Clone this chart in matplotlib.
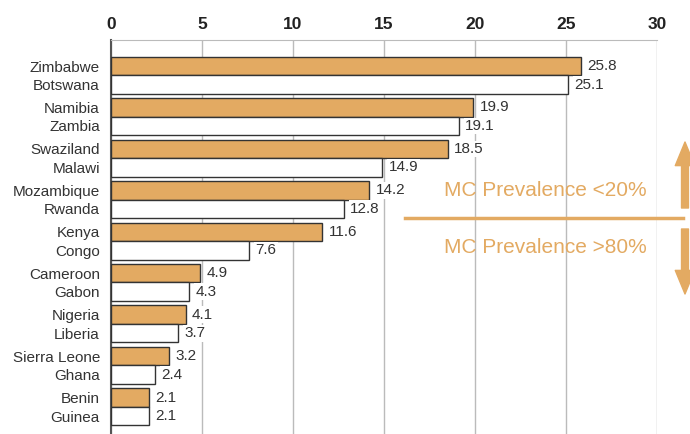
import numpy as np
import matplotlib
matplotlib.use("Agg")
import matplotlib.pyplot as plt
from matplotlib.lines import Line2D

plt.rcParams['font.family'] = ['Liberation Sans', 'DejaVu Sans']

# pairs: upper (filled) country, lower (white) country
top_names = ['Zimbabwe', 'Namibia', 'Swaziland', 'Mozambique', 'Kenya',
             'Cameroon', 'Nigeria', 'Sierra Leone', 'Benin']
top_vals = [25.8, 19.9, 18.5, 14.2, 11.6, 4.9, 4.1, 3.2, 2.1]
bot_names = ['Botswana', 'Zambia', 'Malawi', 'Rwanda', 'Congo',
             'Gabon', 'Liberia', 'Ghana', 'Guinea']
bot_vals = [25.1, 19.1, 14.9, 12.8, 7.6, 4.3, 3.7, 2.4, 2.1]
xticks = [0, 5, 10, 15, 20, 25, 30]

orange = '#E3AA62'
edge = '#333333'

fig = plt.figure(figsize=(6.9, 4.34), dpi=100)
ax = fig.add_axes([111 / 690, 0, 546 / 690, 1 - 40 / 434])

pitch = 2.24
pos = np.arange(len(top_vals)) * pitch
ax.barh(pos, top_vals, height=1.0, color=orange, edgecolor=edge, linewidth=1, zorder=3)
ax.barh(pos + 1, bot_vals, height=1.0, color='white', edgecolor=edge, linewidth=1, zorder=3)

for y, v in zip(pos, top_vals):
    ax.text(v + 0.35, y, f'{v}', va='center', ha='left', fontsize=11, color='#333333',
            zorder=4, bbox=dict(facecolor='white', edgecolor='none', pad=1.0))
for y, v in zip(pos + 1, bot_vals):
    ax.text(v + 0.35, y, f'{v}', va='center', ha='left', fontsize=11, color='#333333',
            zorder=4, bbox=dict(facecolor='white', edgecolor='none', pad=1.0))

yt = np.empty(2 * len(pos))
yt[0::2] = pos
yt[1::2] = pos + 1
labels = []
for a, b in zip(top_names, bot_names):
    labels += [a, b]
ax.set_yticks(yt)
ax.set_yticklabels(labels, fontsize=11, color='#333333')
ax.tick_params(axis='y', length=0, pad=8)

ax.set_xlim(0, 30)
ax.set_ylim(368 / 18.5, -26 / 18.5)
ax.xaxis.tick_top()
ax.set_xticks(xticks)
ax.set_xticklabels([str(t) for t in xticks], fontsize=12.5, fontweight='bold', color='#222222')
ax.tick_params(axis='x', length=0, pad=6)
ax.grid(axis='x', color='#bbbbbb', linewidth=1, zorder=0)
ax.set_axisbelow(True)

for s in ['right', 'bottom']:
    ax.spines[s].set_visible(False)
ax.spines['top'].set_color('#bbbbbb')
ax.spines['left'].set_color('#555555')
ax.spines['left'].set_linewidth(1.5)

fig.add_artist(Line2D([405 / 690, 683 / 690], [216 / 434, 216 / 434], color=orange,
                      linewidth=2.5, transform=fig.transFigure))
fig.text(545 / 690, 1 - 190 / 434, 'MC Prevalence <20%', color=orange, fontsize=15,
         ha='center', va='center')
fig.text(545 / 690, 1 - 247 / 434, 'MC Prevalence >80%', color=orange, fontsize=15,
         ha='center', va='center')

arrow = dict(arrowstyle='simple,head_length=17,head_width=14,tail_width=5',
             mutation_scale=1, color=orange, shrinkA=0, shrinkB=0)
ax.annotate('', xy=(685, 434 - 142), xytext=(685, 434 - 208), xycoords='figure pixels',
            textcoords='figure pixels', arrowprops=arrow, annotation_clip=False)
ax.annotate('', xy=(685, 434 - 294), xytext=(685, 434 - 229), xycoords='figure pixels',
            textcoords='figure pixels', arrowprops=arrow, annotation_clip=False)

fig.savefig('out.png', dpi=100)
